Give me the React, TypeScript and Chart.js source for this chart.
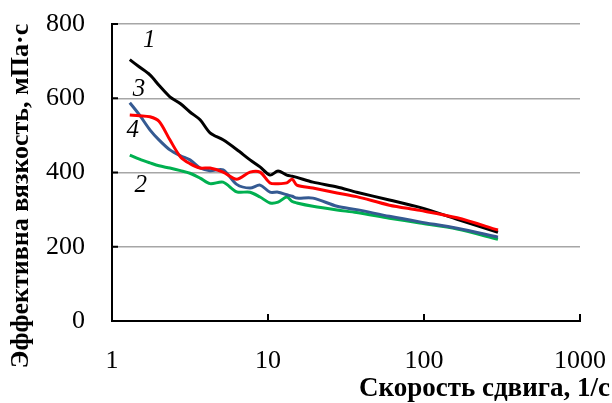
import React, { useEffect, useRef } from "react";
import { Chart, registerables } from "chart.js";

Chart.register(...registerables);

// Shear rate, 1/s
const shearRate = [1.3, 1.5, 1.75, 2.0, 2.35, 2.75, 3.16, 3.67, 4.25, 5.15, 6.3, 7.67, 8.89, 10.3, 11.6, 13.2, 14.3, 15.3, 19.4, 27.7, 37, 60, 94, 163, 298];

// Effective viscosity, mPa·s
const curve1 = [704, 684, 663, 635, 604, 585, 563, 542, 507, 488, 462, 434, 415, 393, 404, 393, 390, 387, 374, 361, 347, 326, 306, 274, 239];
const curve3 = [588, 555, 515, 488, 461, 445, 434, 412, 405, 407, 368, 358, 366, 347, 347, 340, 336, 331, 331, 309, 300, 282, 267, 250, 226];
const curve4 = [555, 553, 550, 538, 488, 442, 424, 412, 412, 401, 382, 401, 401, 372, 370, 372, 382, 366, 358, 345, 335, 312, 298, 278, 245];
const curve2 = [447, 436, 426, 418, 412, 405, 398, 385, 370, 374, 348, 347, 334, 318, 320, 334, 322, 318, 309, 299, 292, 277, 264, 248, 220];

const xTicks = [1, 10, 100, 1000];
const yTicks = [0, 200, 400, 600, 800];

const curveNames = ["1", "2", "3", "4"];
// label anchor positions in data units
const labelX = [1.73, 1.53, 1.49, 1.36];
const labelY = [755, 364, 623, 512];

const xTitle = "Скорость сдвига, 1/с";
const yTitle = "Эффективна вязкость, мПа·с";

const pts = (ys: number[]) => ys.map((y, i) => ({ x: shearRate[i], y }));

export default function App() {
  const ref = useRef<HTMLCanvasElement | null>(null);
  useEffect(() => {
    if (!ref.current) return;
    const serif = "'Liberation Serif', 'Times New Roman', serif";
    const overlay = {
      id: "overlay",
      afterDraw(chart: any) {
        const ctx = chart.ctx;
        const xs = chart.scales.x;
        const ys = chart.scales.y;
        ctx.save();
        // tick marks (inside)
        ctx.strokeStyle = "#000";
        ctx.lineWidth = 2;
        ctx.beginPath();
        yTicks.slice(1).forEach((v) => {
          const py = ys.getPixelForValue(v);
          ctx.moveTo(xs.left, py);
          ctx.lineTo(xs.left + 6, py);
        });
        xTicks.slice(1).forEach((v) => {
          const px = xs.getPixelForValue(v);
          ctx.moveTo(px, ys.bottom);
          ctx.lineTo(px, ys.bottom - 7);
        });
        ctx.stroke();
        // curve labels
        ctx.fillStyle = "#000";
        ctx.font = `italic 25px ${serif}`;
        ctx.textAlign = "center";
        ctx.textBaseline = "middle";
        curveNames.forEach((n, i) => {
          ctx.fillText(n, xs.getPixelForValue(labelX[i]), ys.getPixelForValue(labelY[i]));
        });
        // x title
        ctx.font = `bold 27px ${serif}`;
        ctx.textAlign = "right";
        ctx.fillText(xTitle, 610, 389);
        // y title
        ctx.translate(21, 196);
        ctx.rotate(-Math.PI / 2);
        ctx.textAlign = "center";
        ctx.font = `bold 26px ${serif}`;
        ctx.fillText(yTitle, 0, 0);
        ctx.restore();
      },
    };
    const chart = new Chart(ref.current, {
      type: "line",
      data: {
        datasets: [
          { label: "4", data: pts(curve4), borderColor: "#ff0000" },
          { label: "1", data: pts(curve1), borderColor: "#000000" },
          { label: "3", data: pts(curve3), borderColor: "#355a92" },
          { label: "2", data: pts(curve2), borderColor: "#00b050" },
        ].map((d) => ({ ...d, borderWidth: 3, pointRadius: 0, tension: 0.3, fill: false })),
      },
      options: {
        animation: false,
        responsive: true,
        maintainAspectRatio: false,
        layout: { padding: { top: 24, right: 32, left: 0, bottom: 0 } },
        plugins: { legend: { display: false }, tooltip: { enabled: false } },
        scales: {
          x: {
            type: "logarithmic",
            min: 1,
            max: 1000,
            afterBuildTicks: (s: any) => {
              s.ticks = xTicks.map((v) => ({ value: v }));
            },
            afterFit: (s: any) => {
              s.height = 82;
              s.paddingLeft = 0;
              s.paddingRight = 0;
            },
            ticks: {
              color: "#000",
              font: { family: serif, size: 26 },
              padding: 25,
              maxRotation: 0,
              autoSkip: false,
              callback: (v: any) => String(v),
            },
            grid: { display: false, drawTicks: false },
            border: { display: true, color: "#000", width: 2 },
          },
          y: {
            min: 0,
            max: 800,
            afterBuildTicks: (s: any) => {
              s.ticks = yTicks.map((v) => ({ value: v }));
            },
            afterFit: (s: any) => {
              s.width = 112;
              s.paddingTop = 0;
              s.paddingBottom = 0;
            },
            ticks: {
              color: "#000",
              font: { family: serif, size: 26 },
              padding: 27,
              callback: (v: any) => String(v),
            },
            grid: { display: true, drawTicks: false, color: "#a6a6a6", lineWidth: 1.5 },
            border: { display: true, color: "#000", width: 2 },
          },
        },
      },
      plugins: [overlay],
    } as any);
    return () => chart.destroy();
  }, []);
  return (
    <div style={{ position: "fixed", left: 0, top: 0, width: 612, height: 403, background: "#fff" }}>
      <canvas ref={ref} />
    </div>
  );
}
